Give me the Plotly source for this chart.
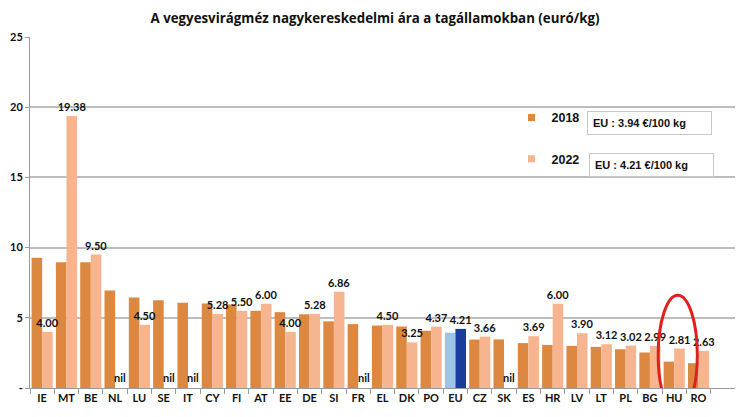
import plotly.graph_objects as go

categories = ["IE", "MT", "BE", "NL", "LU", "SE", "IT", "CY", "FI", "AT", "EE", "DE", "SI", "FR",
              "EL", "DK", "PO", "EU", "CZ", "SK", "ES", "HR", "LV", "LT", "PL", "BG", "HU", "RO"]
values_2018 = [9.28, 8.95, 8.95, 6.95, 6.45, 6.25, 6.08, 6.02, 5.95, 5.50, 5.40, 5.25, 4.75, 4.55,
               4.45, 4.38, 4.08, 3.94, 3.45, 3.46, 3.20, 3.07, 3.00, 2.93, 2.76, 2.53, 1.88, 1.77]
values_2022 = [4.00, 19.38, 9.50, None, 4.50, None, None, 5.28, 5.50, 6.00, 4.00, 5.28, 6.86, None,
               4.50, 3.25, 4.37, 4.21, 3.66, None, 3.69, 6.00, 3.90, 3.12, 3.02, 2.99, 2.81, 2.63]
y_ticks = [0, 5, 10, 15, 20, 25]
y_ticktext = ["-", "5", "10", "15", "20", "25"]
eu_2018_text = "EU : 3.94 €/100 kg"
eu_2022_text = "EU : 4.21 €/100 kg"
highlight = "HU"

C18 = "#DD8840"
C22 = "#F6B48F"
EU18 = "#9DC3E6"
EU22 = "#1A3C9C"

colors18 = [EU18 if c == "EU" else C18 for c in categories]
colors22 = [EU22 if c == "EU" else C22 for c in categories]

labels22 = ["<b>%.2f</b>" % v if v is not None else "" for v in values_2022]

fig = go.Figure()
fig.add_trace(go.Bar(
    x=categories, y=values_2018, name="2018", marker_color=colors18,
    showlegend=False, marker_line_width=0,
))
fig.add_trace(go.Bar(
    x=categories, y=values_2022, name="2022", marker_color=colors22,
    showlegend=False, marker_line_width=0,
    text=labels22, textposition="outside", cliponaxis=False, constraintext="none",
    textfont=dict(family="Lato", size=11, color="#111111"),
))
# legend entries (small square markers like the original)
fig.add_trace(go.Scatter(x=[None], y=[None], mode="markers", name="<b>2018</b>", legendgroup="a",
                         marker=dict(symbol="square", size=7, color=C18)))
fig.add_trace(go.Scatter(x=[None], y=[None], mode="markers", name="<b>2022</b>", legendgroup="b",
                         marker=dict(symbol="square", size=7, color=C22)))

annotations = []
for i, (c, v) in enumerate(zip(categories, values_2022)):
    if v is None:
        annotations.append(dict(
            x=i + 0.22, y=0.15, xref="x", yref="y", text="<b>nil</b>", showarrow=False,
            yanchor="bottom", font=dict(family="Lato", size=11, color="#111111"),
        ))

box_style = dict(xref="paper", yref="paper", xanchor="center", yanchor="middle",
                 showarrow=False, width=113, height=12, align="left", bordercolor="#C8C8C8",
                 borderwidth=1, borderpad=5, bgcolor="white",
                 font=dict(family="Liberation Sans", size=11, color="#111111"))
annotations.append(dict(x=0.879, y=0.756, text="<b>" + eu_2018_text + "</b>", **box_style))
annotations.append(dict(x=0.882, y=0.634, text="<b>" + eu_2022_text + "</b>", **box_style))

hi = categories.index(highlight)
fig.add_shape(type="circle", xref="x", yref="y",
              x0=hi - 0.66, x1=hi + 0.95, y0=-1.9, y1=6.6,
              line=dict(color="#E0201E", width=3))

# the page adds an 8px body margin, so margins are offset to compensate
fig.update_layout(
    width=750, height=417,
    margin=dict(l=22, r=23, t=29, b=37, autoexpand=False),
    paper_bgcolor="white", plot_bgcolor="white",
    barmode="group", bargap=0.13, bargroupgap=0.0,
    title=dict(text="<b>A vegyesvirágméz nagykereskedelmi ára a tagállamokban (euró/kg)</b>",
               x=0.5 - 8 / 750, xanchor="center", y=1 - 10 / 417, yanchor="middle",
               font=dict(family="Open Sans", size=13.3, color="#111111")),
    legend=dict(x=0.683, y=0.812, xanchor="left", yanchor="top", bgcolor="rgba(0,0,0,0)",
                tracegroupgap=22, font=dict(family="Liberation Sans", size=12.5, color="#111111"),
                itemwidth=30),
    showlegend=True,
    annotations=annotations,
)
fig.update_xaxes(
    type="category", range=[-0.5, len(categories) + 0.5], automargin=False,
    showline=True, linecolor="#9A9A9A", linewidth=1,
    ticks="outside", tickson="boundaries", ticklen=5, tickcolor="#9A9A9A",
    tickfont=dict(family="Lato", size=11, color="#111111"), tickangle=0,
    showgrid=False, tickprefix="<b>", ticksuffix="</b>",
)
fig.update_yaxes(
    range=[0, 25], tickvals=y_ticks, ticktext=["<b>%s</b>" % t for t in y_ticktext],
    automargin=False,
    showline=True, linecolor="#9A9A9A", linewidth=1,
    ticks="outside", ticklen=4, tickcolor="#9A9A9A",
    showgrid=True, gridcolor="#BDBDBD", gridwidth=1.5,
    tickfont=dict(family="Lato", size=11, color="#111111"),
    zeroline=False,
)

fig.write_html("out.html")
